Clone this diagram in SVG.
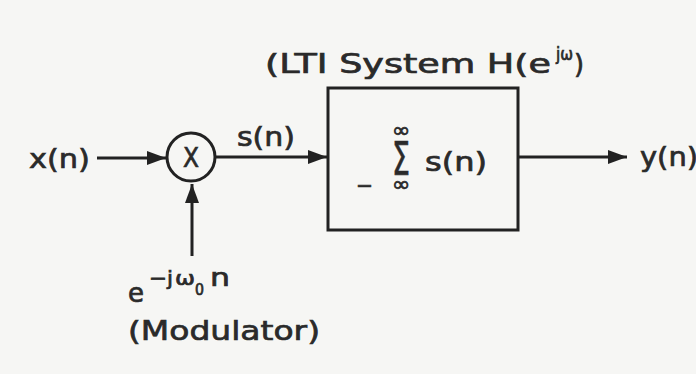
<svg xmlns="http://www.w3.org/2000/svg" width="696" height="374" viewBox="0 0 696 374">
<style>
.t{font-family:"DejaVu Sans","Liberation Sans",sans-serif;fill:#2a2a2a;stroke:#2a2a2a;stroke-width:0.7;}
.ln{stroke:#222;stroke-width:3;fill:none;}
</style>
<defs>
<marker id="ah" markerUnits="userSpaceOnUse" markerWidth="20" markerHeight="14" refX="19" refY="7" orient="auto">
<path d="M0,0 L19,7 L0,14 Z" fill="#222"/>
</marker>
</defs>
<rect x="0" y="0" width="696" height="374" fill="#f6f6f4"/>
<g id="connectors">
<line class="ln" x1="97" y1="158" x2="166" y2="158" marker-end="url(#ah)"/>
<line class="ln" x1="216" y1="157" x2="327" y2="157" marker-end="url(#ah)"/>
<line class="ln" x1="519" y1="157" x2="627" y2="157" marker-end="url(#ah)"/>
<line class="ln" x1="192" y1="256" x2="192" y2="184" marker-end="url(#ah)"/>
</g>
<g id="input">
<text class="t" x="29" y="168" font-size="27" textLength="61" lengthAdjust="spacingAndGlyphs">x(n)</text>
</g>
<g id="multiplier">
<circle cx="191" cy="157" r="24" fill="none" stroke="#222" stroke-width="3"/>
<text class="t" x="183" y="167" font-size="26" textLength="16" lengthAdjust="spacingAndGlyphs">X</text>
</g>
<g id="signal-s">
<text class="t" x="237" y="146" font-size="27" textLength="58" lengthAdjust="spacingAndGlyphs">s(n)</text>
</g>
<g id="modulator">
<text class="t" x="128" y="302" font-size="27" textLength="16" lengthAdjust="spacingAndGlyphs">e</text>
<text class="t" x="149" y="285" font-size="20" textLength="24" lengthAdjust="spacingAndGlyphs">−j</text>
<text class="t" x="175" y="285" font-size="20" textLength="20" lengthAdjust="spacingAndGlyphs">ω</text>
<text class="t" x="195" y="295" font-size="15" textLength="9" lengthAdjust="spacingAndGlyphs">0</text>
<text class="t" x="210" y="286" font-size="24" textLength="20" lengthAdjust="spacingAndGlyphs" stroke-width="0.5">n</text>
<text class="t" x="128" y="340" font-size="27" textLength="192" lengthAdjust="spacingAndGlyphs">(Modulator)</text>
</g>
<g id="lti-system">
<rect x="328" y="88" width="190" height="142" fill="none" stroke="#222" stroke-width="3"/>
<text class="t" x="265" y="73" font-size="27" textLength="286" lengthAdjust="spacingAndGlyphs">(LTI System H(e</text>
<text class="t" x="556" y="60" font-size="17" textLength="17" lengthAdjust="spacingAndGlyphs">jω</text>
<text class="t" x="574" y="73" font-size="27" textLength="10" lengthAdjust="spacingAndGlyphs">)</text>
<text class="t" x="356" y="193" font-size="22" textLength="17" lengthAdjust="spacingAndGlyphs">−</text>
<text class="t" x="392" y="137" font-size="20" textLength="18" lengthAdjust="spacingAndGlyphs">∞</text>
<text class="t" x="392" y="175" font-size="46" textLength="18" lengthAdjust="spacingAndGlyphs">Σ</text>
<text class="t" x="392" y="191" font-size="20" textLength="18" lengthAdjust="spacingAndGlyphs">∞</text>
<text class="t" x="425" y="171" font-size="27" textLength="62" lengthAdjust="spacingAndGlyphs">s(n)</text>
</g>
<g id="output">
<text class="t" x="640" y="166" font-size="27" textLength="58" lengthAdjust="spacingAndGlyphs">y(n)</text>
</g>
</svg>
